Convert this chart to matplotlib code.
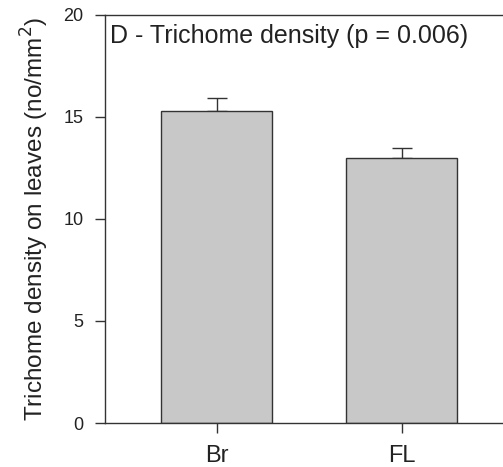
import matplotlib
matplotlib.use("Agg")
import matplotlib.pyplot as plt

categories = ["Br", "FL"]
means = [15.3, 13.0]
errors = [0.65, 0.5]
yticks = [0, 5, 10, 15, 20]

plt.rcParams['font.family'] = ['Liberation Sans', 'DejaVu Sans']

fig = plt.figure(figsize=(5.03, 4.67), dpi=100)
W, H = 503, 467
ax = fig.add_axes([105 / W, 1 - 423 / H, (503 - 105) / W, (423 - 15) / H])

x = list(range(len(categories)))
ax.bar(x, means, width=0.6, color="#c8c8c8", edgecolor="#333333", linewidth=1.0, zorder=2)
ax.errorbar(x, means, yerr=[[0] * len(errors), errors], fmt="none", ecolor="#333333",
            elinewidth=1.0, capsize=7.5, capthick=1.0, zorder=1)

ax.set_xlim(-0.605, 1.546)
ax.set_ylim(0, 20)
ax.set_yticks(yticks)
ax.set_xticks(x)
ax.set_xticklabels(categories)
ax.spines['right'].set_visible(False)
for s in ['left', 'bottom', 'top']:
    ax.spines[s].set_color("#333333")
    ax.spines[s].set_linewidth(1.0)
ax.tick_params(axis='y', direction='out', length=7.5, width=1.0, colors="#333333", labelsize=13, pad=8)
ax.tick_params(axis='x', direction='out', length=7.5, width=1.0, colors="#333333", labelsize=17, pad=8)
for lab in ax.get_xticklabels() + ax.get_yticklabels():
    lab.set_color("#222222")

ax.set_ylabel("Trichome density on leaves (no/mm$^2$)", fontsize=17.5, color="#222222", labelpad=9)
ax.text(0.0126, 0.931, "D - Trichome density (p = 0.006)", transform=ax.transAxes,
        ha="left", va="baseline", fontsize=18, color="#222222")

fig.savefig("out.png", dpi=100)
